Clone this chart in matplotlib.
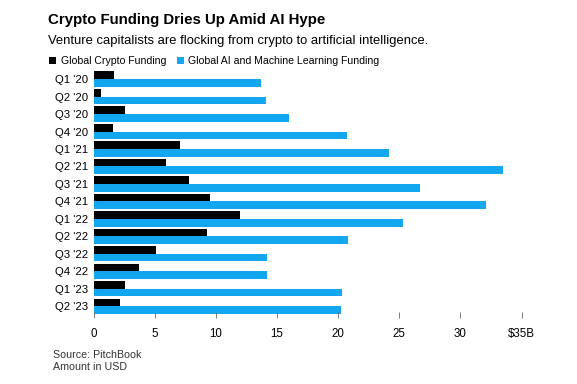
import numpy as np
import matplotlib
matplotlib.use("Agg")
import matplotlib.pyplot as plt

# Data (billions USD)
quarters = ["Q1 '20", "Q2 '20", "Q3 '20", "Q4 '20", "Q1 '21", "Q2 '21", "Q3 '21",
            "Q4 '21", "Q1 '22", "Q2 '22", "Q3 '22", "Q4 '22", "Q1 '23", "Q2 '23"]
crypto = [1.7, 0.6, 2.6, 1.6, 7.1, 5.9, 7.8, 9.5, 12.0, 9.3, 5.1, 3.7, 2.6, 2.2]
ai_ml = [13.7, 14.1, 16.0, 20.7, 24.2, 33.5, 26.7, 32.1, 25.3, 20.8, 14.2, 14.2, 20.3, 20.2]
xticks = [0, 5, 10, 15, 20, 25, 30, 35]
xtick_labels = ["0", "5", "10", "15", "20", "25", "30", "$35B"]

BLUE = "#12a7ef"
W, H = 577, 384
plt.rcParams['font.family'] = ['Liberation Sans', 'DejaVu Sans']

fig = plt.figure(figsize=(W / 100, H / 100), dpi=100)

# axes placement in pixels
left, right, top, bottom = 93.5, 534, 68, 318
ax = fig.add_axes([left / W, 1 - bottom / H, (right - left) / W, (bottom - top) / H])

y = np.arange(len(quarters))
h = 0.43
ax.barh(y - h / 2, crypto, height=h, color="black", label="Global Crypto Funding")
ax.barh(y + h / 2, ai_ml, height=h, color=BLUE, label="Global AI and Machine Learning Funding")

ax.set_xlim(0, (right - left) / 12.23)
ax.set_ylim(13.66, -0.63)
ax.set_yticks(y)
ax.set_yticklabels(quarters, fontsize=8.2)
ax.set_xticks(xticks)
ax.set_xticklabels(xtick_labels, fontsize=8.3)
ax.tick_params(axis="y", length=0, pad=4)
ax.tick_params(axis="x", length=4, width=0.6, color="#666666", direction="in", pad=7)
for s in ax.spines.values():
    s.set_visible(False)

fig.text(48 / W, 1 - 20 / H, "Crypto Funding Dries Up Amid AI Hype", fontsize=10.8,
         fontweight="bold", va="center", ha="left")
fig.text(48 / W, 1 - 41 / H, "Venture capitalists are flocking from crypto to artificial intelligence.",
         fontsize=9.35, va="center", ha="left")

leg = fig.legend(loc="center left", bbox_to_anchor=(49 / W, 1 - 61 / H), ncol=2, frameon=False,
                 fontsize=7.6, handlelength=0.7, handleheight=0.7, handletextpad=0.4,
                 columnspacing=1.0, borderaxespad=0, borderpad=0)

fig.text(53 / W, 1 - 355 / H, "Source: PitchBook", fontsize=7.7, va="center", ha="left", color="#333333")
fig.text(53 / W, 1 - 367 / H, "Amount in USD", fontsize=7.7, va="center", ha="left", color="#333333")

fig.savefig("out.png", dpi=100)
